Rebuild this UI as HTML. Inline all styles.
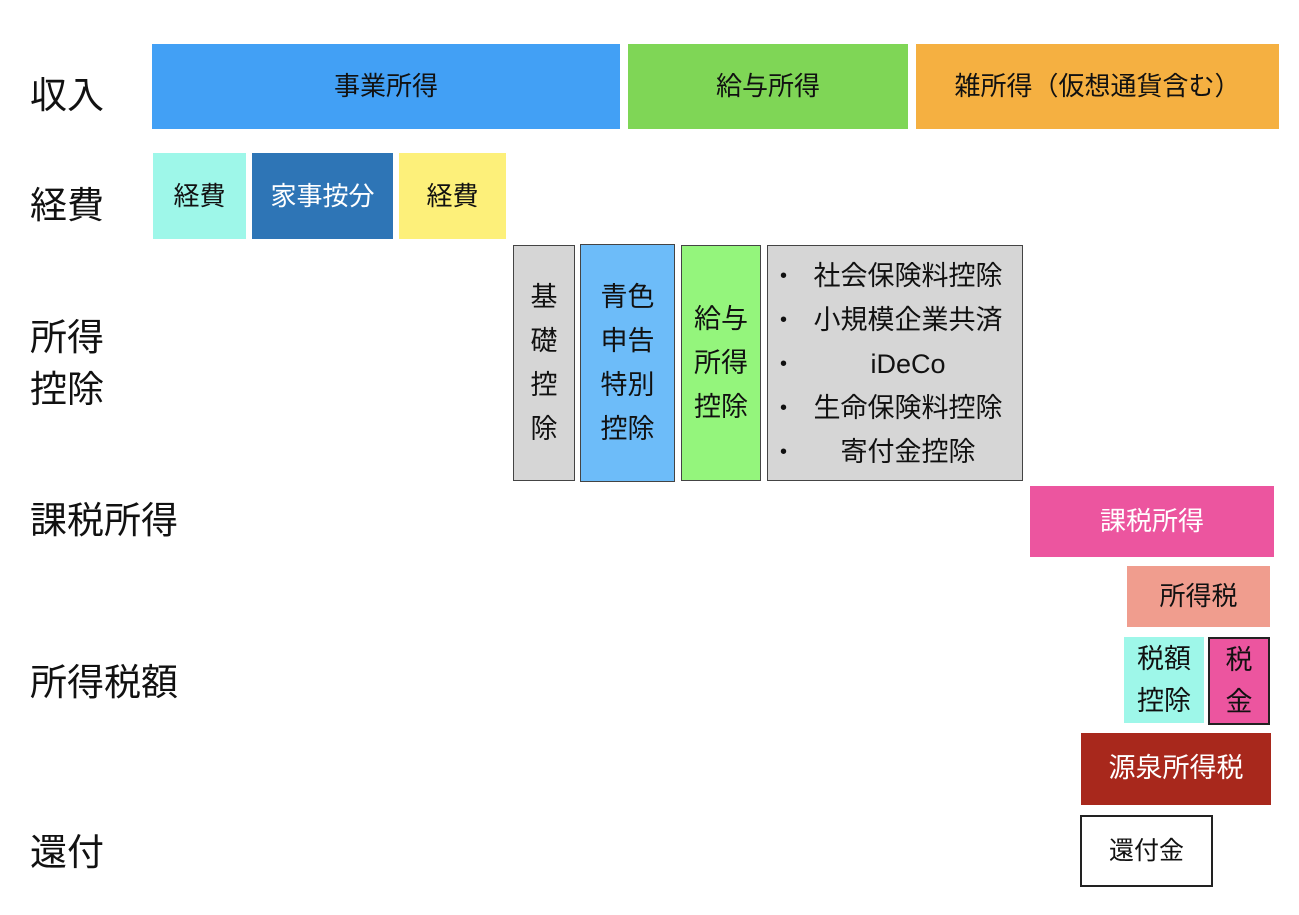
<!DOCTYPE html>
<html><head><meta charset="utf-8"><style>
body{margin:0;width:1299px;height:915px;background:#fff;position:relative;overflow:hidden;font-family:"Liberation Sans","Noto Sans CJK JP",sans-serif;color:#111}
.b{position:absolute;display:flex;align-items:center;justify-content:center;text-align:center;font-size:26px;line-height:1.4;box-sizing:border-box}
.v{line-height:44px;font-size:27px}
.l{position:absolute;left:30px;font-size:37px;line-height:52px}
.g{border:1.5px solid #444}
</style></head><body>
<div class="l" style="top:70px">収入</div>
<div class="l" style="top:180px">経費</div>
<div class="l" style="top:312px">所得<br>控除</div>
<div class="l" style="top:495px">課税所得</div>
<div class="l" style="top:657px">所得税額</div>
<div class="l" style="top:827px">還付</div>

<div class="b" style="left:152px;top:44px;width:468px;height:85px;background:#42a0f5">事業所得</div>
<div class="b" style="left:628px;top:44px;width:280px;height:85px;background:#7fd656">給与所得</div>
<div class="b" style="left:916px;top:44px;width:363px;height:85px;background:#f5b041">雑所得（仮想通貨含む）</div>

<div class="b" style="left:153px;top:153px;width:93px;height:86px;background:#9ef7e9">経費</div>
<div class="b" style="left:252px;top:153px;width:141px;height:86px;background:#2e75b6;color:#fff">家事按分</div>
<div class="b" style="left:399px;top:153px;width:107px;height:86px;background:#fdf07a">経費</div>

<div class="b g v" style="left:513px;top:245px;width:62px;height:236px;background:#d6d6d6">基<br>礎<br>控<br>除</div>
<div class="b g v" style="left:580px;top:244px;width:95px;height:238px;background:#6dbcf9">青色<br>申告<br>特別<br>控除</div>
<div class="b g v" style="left:681px;top:245px;width:80px;height:236px;background:#94f57c">給与<br>所得<br>控除</div>
<div class="b g" style="left:767px;top:245px;width:256px;height:236px;background:#d6d6d6;display:block;padding-top:8px;line-height:44px;font-size:27px">
<div style="position:absolute;left:12px;top:8px;font-size:20px;line-height:44px">•<br>•<br>•<br>•<br>•</div>
<div style="padding-left:26px">社会保険料控除<br>小規模企業共済<br>iDeCo<br>生命保険料控除<br>寄付金控除</div></div>

<div class="b" style="left:1030px;top:486px;width:244px;height:71px;background:#ec559f;color:#fff">課税所得</div>
<div class="b" style="left:1127px;top:566px;width:143px;height:61px;background:#f09d8e">所得税</div>
<div class="b v" style="left:1124px;top:637px;width:80px;height:86px;background:#9ef7e9;line-height:42px">税額<br>控除</div>
<div class="b v" style="left:1208px;top:637px;width:62px;height:88px;background:#ec559f;border:2px solid #222;line-height:42px">税<br>金</div>
<div class="b" style="left:1081px;top:733px;width:190px;height:72px;background:#a8281c;color:#fff;font-size:27px">源泉所得税</div>
<div class="b" style="left:1080px;top:815px;width:133px;height:72px;border:2px solid #222;font-size:25px">還付金</div>
</body></html>
